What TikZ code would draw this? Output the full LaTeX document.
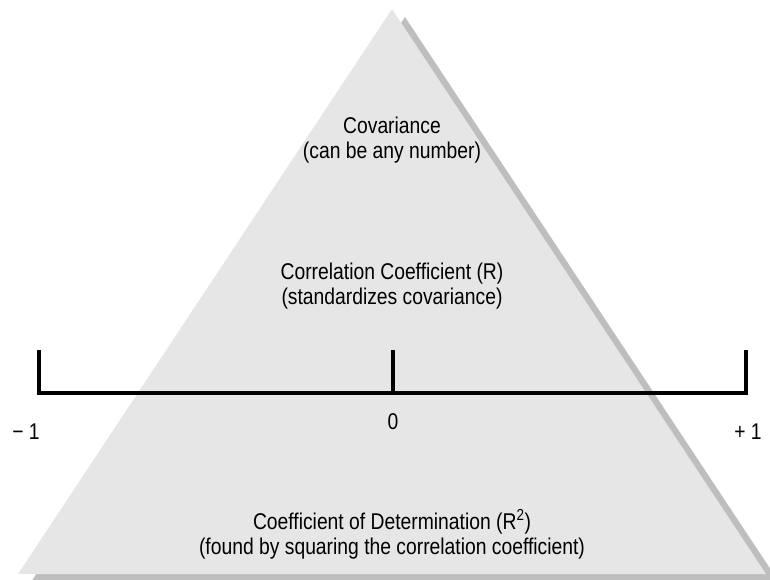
\documentclass[tikz,border=0pt]{standalone}
\usepackage{fontspec}
\setmainfont{Liberation Sans}
\usepackage{tikz}

\definecolor{trifill}{HTML}{E6E6E6}
\definecolor{trishade}{HTML}{BEBEBE}

\begin{document}
\begin{tikzpicture}[x = 1pt, y = -1pt,
  caption/.style = {align=center, inner sep=0pt, font=\fontsize{19.3}{21.2}\selectfont, yscale=1.18, transform shape},
  endlabel/.style = {inner sep=0pt, font=\fontsize{19.3}{21.2}\selectfont, yscale=1.18, transform shape},
  scale bar/.style = {line width=3.5pt, line join=miter, line cap=rect}]

\useasboundingbox (0, 0) rectangle (770, 579);

% shadow and pyramid
\fill[trishade] (405, 17) -- (779, 582) -- (31, 582) -- cycle;
\fill[trifill] (392, 9) -- (766, 574) -- (18, 574) -- cycle;

\node[caption] (cov) at (392, 140) {Covariance\\(can be any number)};
\node[caption] (corr) at (392, 286) {Correlation Coefficient (R)\\(standardizes covariance)};
\node[caption] (det) at (392, 534) {Coefficient of Determination (R\textsuperscript{2})\\(found by squaring the correlation coefficient)};

% the -1 ... +1 scale
\coordinate (lefttop) at (39, 352);
\coordinate (leftend) at (39, 393);
\coordinate (midtop) at (393, 352);
\coordinate (midend) at (393, 393);
\coordinate (righttop) at (746, 352);
\coordinate (rightend) at (746, 393);

\draw[scale bar] (lefttop) -- (leftend) -- (rightend) -- (righttop);
\draw[scale bar] (midtop) -- (midend);

\node[endlabel] (minus) at (26, 432) {− 1};
\node[endlabel] (zero) at (393, 422) {0};
\node[endlabel] (plus) at (748, 432) {+ 1};

\end{tikzpicture}
\end{document}
